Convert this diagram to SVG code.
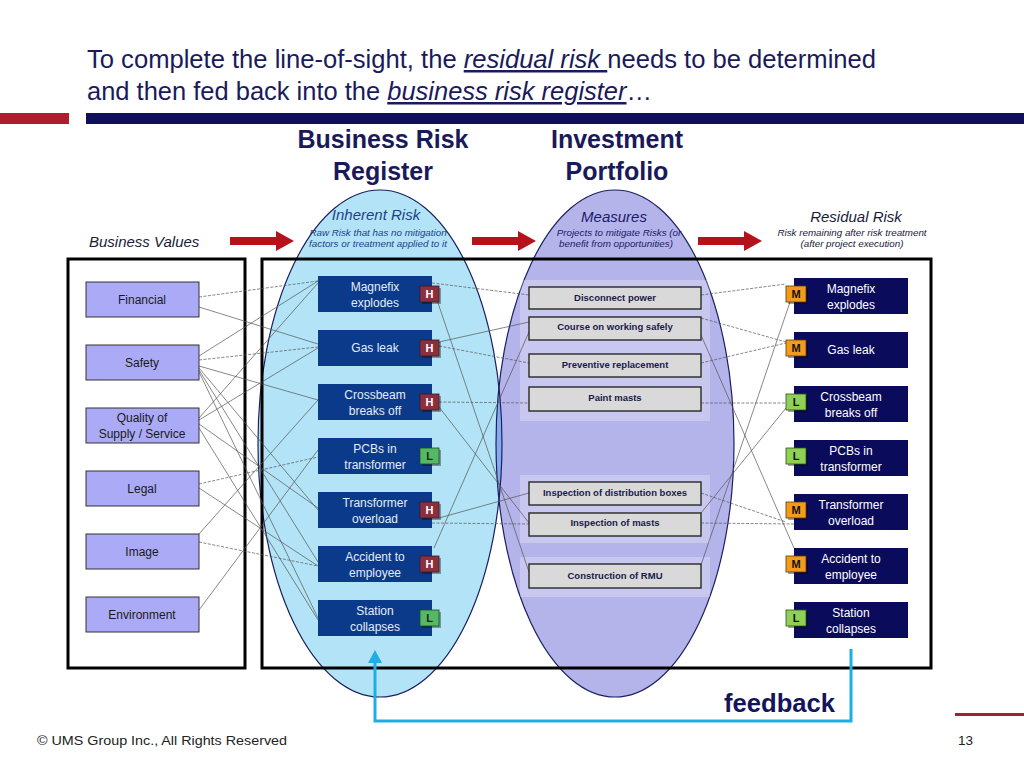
<svg xmlns="http://www.w3.org/2000/svg" width="1024" height="768" viewBox="0 0 1024 768">
<style>
text{font-family:"Liberation Sans",Arial,sans-serif}
.title{font-size:25px;fill:#1a1a5c}
.iu{font-style:italic;text-decoration:underline}
.hdr{font-size:25px;font-weight:bold;fill:#1a1a5a;text-anchor:middle}
.lab{font-size:15px;font-style:italic;text-anchor:middle}
.sub{font-size:9.8px;font-style:italic;text-anchor:middle}
.bv rect{fill:#aaaaf6;stroke:#333;stroke-width:1}
.bv text{font-size:12px;fill:#1a1a1a;text-anchor:middle}
.ir rect.b{fill:#0b3a8a}
.ir text.t{font-size:12px;fill:#e4ecf8;text-anchor:middle}
.rr rect.b{fill:#0b0b5c}
.rr text.t{font-size:12px;fill:#ffffff;text-anchor:middle}
.ms rect{fill:#d9d9d9;stroke:#333;stroke-width:1.5}
.ms text{font-size:9.5px;font-weight:bold;fill:#1a1a4a;text-anchor:middle}
.bd text{font-size:11px;font-weight:bold;text-anchor:middle}
.sh{fill:#000;opacity:0.35}
.H{fill:#8b2f3f;stroke:#3a1a20;stroke-width:0.8}
.Lg{fill:#55b863;stroke:#1e4a25;stroke-width:0.8}
.M{fill:#f39c1c;stroke:#5a3a08;stroke-width:0.8}
.L2{fill:#8fd155;stroke:#2e5218;stroke-width:0.8}
.c{stroke:#555;stroke-width:0.7;fill:none}
.d{stroke:#555;stroke-width:0.7;fill:none;stroke-dasharray:3 1.5}
.red{fill:#b5121b}
</style>
<defs>
<path id="rarrow" d="M0,-4 H46 V-10 L64,0 L46,10 V4 H0 Z"/>
<clipPath id="blueClip"><ellipse cx="380" cy="443.5" rx="122" ry="253.5"/></clipPath>
</defs>
<rect x="0" y="0" width="1024" height="768" fill="#ffffff"/>

<!-- title -->
<text class="title" x="87" y="68" textLength="789" lengthAdjust="spacingAndGlyphs">To complete the line-of-sight, the <tspan class="iu">residual risk </tspan>needs to be determined</text>
<text class="title" x="87" y="100" textLength="565" lengthAdjust="spacingAndGlyphs">and then fed back into the <tspan class="iu">business risk register</tspan>…</text>
<rect x="0" y="113" width="69" height="11" fill="#b01c2e"/>
<rect x="86" y="113" width="938" height="11" fill="#10105a"/>

<text class="hdr" x="383" y="148">Business Risk</text>
<text class="hdr" x="383" y="180">Register</text>
<text class="hdr" x="617" y="148">Investment</text>
<text class="hdr" x="617" y="180">Portfolio</text>

<!-- ellipses -->
<g id="ellipses">
<ellipse cx="380" cy="443.5" rx="122" ry="253.5" fill="#b3e3f6"/>
<ellipse cx="615" cy="443.5" rx="119" ry="253.5" fill="#b4b4ea"/>
<ellipse cx="615" cy="443.5" rx="119" ry="253.5" fill="#86aaee" clip-path="url(#blueClip)"/>
<ellipse cx="380" cy="443.5" rx="122" ry="253.5" fill="none" stroke="#1a2060" stroke-width="1.2"/>
<ellipse cx="615" cy="443.5" rx="119" ry="253.5" fill="none" stroke="#1a2060" stroke-width="1.2"/>
</g>

<!-- frames -->
<rect x="68" y="259" width="177" height="409" fill="none" stroke="#000" stroke-width="3"/>
<rect x="262" y="259" width="669" height="409" fill="none" stroke="#000" stroke-width="3"/>

<!-- measure panels -->
<rect x="520" y="280" width="190" height="141" fill="#ffffff" opacity="0.25"/>
<rect x="520" y="475" width="190" height="68" fill="#ffffff" opacity="0.25"/>
<rect x="520" y="557" width="190" height="40" fill="#ffffff" opacity="0.25"/>

<!-- red arrows -->
<use href="#rarrow" class="red" transform="translate(230,241)"/>
<use href="#rarrow" class="red" transform="translate(472,241)"/>
<use href="#rarrow" class="red" transform="translate(698,241)"/>

<!-- column labels -->
<text class="lab" x="89" y="247" style="text-anchor:start;fill:#1a1a3a">Business Values</text>
<text class="lab" x="376" y="220" fill="#1e3f8a">Inherent Risk</text>
<text class="sub" x="378" y="236" fill="#1e3f8a">Raw Risk that has no mitigation</text>
<text class="sub" x="378" y="247" fill="#1e3f8a">factors or treatment applied to it</text>
<text class="lab" x="614" y="222" fill="#1a1a6a">Measures</text>
<text class="sub" x="619" y="236" fill="#1a1a6a">Projects to mitigate Risks (or</text>
<text class="sub" x="616" y="247" fill="#1a1a6a">benefit from opportunities)</text>
<text class="lab" x="856" y="222" fill="#1a1a3a">Residual Risk</text>
<text class="sub" x="852" y="236" fill="#1a1a3a">Risk remaining after risk treatment</text>
<text class="sub" x="852" y="247" fill="#1a1a3a">(after project execution)</text>

<!-- connectors -->
<g id="connectors">
<line class="d" x1="199" y1="297" x2="318" y2="281"/>
<line class="c" x1="199" y1="307" x2="318" y2="344"/>
<line class="c" x1="199" y1="356" x2="318" y2="281"/>
<line class="d" x1="199" y1="360" x2="318" y2="347"/>
<line class="c" x1="199" y1="366" x2="318" y2="400"/>
<line class="c" x1="199" y1="368" x2="318" y2="510"/>
<line class="c" x1="199" y1="370" x2="318" y2="562"/>
<line class="c" x1="199" y1="372" x2="318" y2="618"/>
<line class="c" x1="199" y1="418" x2="318" y2="283"/>
<line class="c" x1="199" y1="420" x2="318" y2="348"/>
<line class="c" x1="199" y1="424" x2="318" y2="508"/>
<line class="c" x1="199" y1="428" x2="318" y2="620"/>
<line class="d" x1="199" y1="484" x2="318" y2="457"/>
<line class="c" x1="199" y1="488" x2="318" y2="566"/>
<line class="c" x1="199" y1="534" x2="318" y2="400"/>
<line class="d" x1="199" y1="542" x2="318" y2="566"/>
<line class="c" x1="199" y1="610" x2="318" y2="450"/>

<line class="d" x1="432" y1="283" x2="529" y2="295"/>
<line class="c" x1="437" y1="300" x2="529" y2="572"/>
<line class="c" x1="439" y1="342" x2="529" y2="322"/>
<line class="d" x1="439" y1="346" x2="529" y2="363"/>
<line class="d" x1="439" y1="402" x2="529" y2="403"/>
<line class="c" x1="439" y1="407" x2="529" y2="523"/>
<line class="c" x1="439" y1="518" x2="529" y2="493"/>
<line class="d" x1="432" y1="523" x2="529" y2="524"/>
<line class="c" x1="434" y1="548" x2="529" y2="332"/>

<line class="d" x1="701" y1="295" x2="786" y2="284"/>
<line class="d" x1="701" y1="318" x2="786" y2="342"/>
<line class="c" x1="701" y1="335" x2="794" y2="548"/>
<line class="d" x1="701" y1="363" x2="786" y2="343"/>
<line class="d" x1="701" y1="403" x2="786" y2="403"/>
<line class="d" x1="701" y1="493" x2="786" y2="522"/>
<line class="d" x1="701" y1="523" x2="794" y2="524"/>
<line class="c" x1="701" y1="513" x2="786" y2="408"/>
<line class="c" x1="701" y1="565" x2="790" y2="302"/>
</g>

<!-- business values -->
<g id="bv-financial" class="bv"><rect x="86" y="282" width="113" height="35"/><text x="142" y="304">Financial</text></g>
<g id="bv-safety" class="bv"><rect x="86" y="345" width="113" height="35"/><text x="142" y="367">Safety</text></g>
<g id="bv-quality" class="bv"><rect x="86" y="408" width="113" height="35"/><text x="142" y="422">Quality of</text><text x="142" y="438">Supply / Service</text></g>
<g id="bv-legal" class="bv"><rect x="86" y="471" width="113" height="35"/><text x="142" y="493">Legal</text></g>
<g id="bv-image" class="bv"><rect x="86" y="534" width="113" height="35"/><text x="142" y="556">Image</text></g>
<g id="bv-environment" class="bv"><rect x="86" y="597" width="113" height="35"/><text x="142" y="619">Environment</text></g>

<!-- inherent risks -->
<g id="ir-magnefix" class="ir"><rect class="b" x="318" y="276" width="114" height="36"/><text class="t" x="375" y="291">Magnefix</text><text class="t" x="375" y="307">explodes</text>
<g class="bd"><rect class="sh" x="422" y="288" width="19" height="16"/><rect class="H" x="420" y="286" width="19" height="16"/><text x="429.5" y="298" fill="#fff">H</text></g></g>
<g id="ir-gasleak" class="ir"><rect class="b" x="318" y="330" width="114" height="36"/><text class="t" x="375" y="352">Gas leak</text>
<g class="bd"><rect class="sh" x="422" y="342" width="19" height="16"/><rect class="H" x="420" y="340" width="19" height="16"/><text x="429.5" y="352" fill="#fff">H</text></g></g>
<g id="ir-crossbeam" class="ir"><rect class="b" x="318" y="384" width="114" height="36"/><text class="t" x="375" y="399">Crossbeam</text><text class="t" x="375" y="415">breaks off</text>
<g class="bd"><rect class="sh" x="422" y="396" width="19" height="16"/><rect class="H" x="420" y="394" width="19" height="16"/><text x="429.5" y="406" fill="#fff">H</text></g></g>
<g id="ir-pcbs" class="ir"><rect class="b" x="318" y="438" width="114" height="36"/><text class="t" x="375" y="453">PCBs in</text><text class="t" x="375" y="469">transformer</text>
<g class="bd"><rect class="sh" x="422" y="450" width="19" height="16"/><rect class="Lg" x="420" y="448" width="19" height="16"/><text x="429.5" y="460" fill="#1a2a1a">L</text></g></g>
<g id="ir-transformer" class="ir"><rect class="b" x="318" y="492" width="114" height="36"/><text class="t" x="375" y="507">Transformer</text><text class="t" x="375" y="523">overload</text>
<g class="bd"><rect class="sh" x="422" y="504" width="19" height="16"/><rect class="H" x="420" y="502" width="19" height="16"/><text x="429.5" y="514" fill="#fff">H</text></g></g>
<g id="ir-accident" class="ir"><rect class="b" x="318" y="546" width="114" height="36"/><text class="t" x="375" y="561">Accident to</text><text class="t" x="375" y="577">employee</text>
<g class="bd"><rect class="sh" x="422" y="558" width="19" height="16"/><rect class="H" x="420" y="556" width="19" height="16"/><text x="429.5" y="568" fill="#fff">H</text></g></g>
<g id="ir-station" class="ir"><rect class="b" x="318" y="600" width="114" height="36"/><text class="t" x="375" y="615">Station</text><text class="t" x="375" y="631">collapses</text>
<g class="bd"><rect class="sh" x="422" y="612" width="19" height="16"/><rect class="Lg" x="420" y="610" width="19" height="16"/><text x="429.5" y="622" fill="#1a2a1a">L</text></g></g>

<!-- measures -->
<g id="m-disconnect" class="ms"><rect x="529" y="287" width="172" height="22"/><text x="615" y="301">Disconnect power</text></g>
<g id="m-course" class="ms"><rect x="529" y="317" width="172" height="23"/><text x="615" y="330">Course on working safely</text></g>
<g id="m-preventive" class="ms"><rect x="529" y="354" width="172" height="23"/><text x="615" y="368">Preventive replacement</text></g>
<g id="m-paint" class="ms"><rect x="529" y="387" width="172" height="24"/><text x="615" y="401">Paint masts</text></g>
<g id="m-inspdist" class="ms"><rect x="529" y="482" width="172" height="23"/><text x="615" y="496">Inspection of distribution boxes</text></g>
<g id="m-inspmasts" class="ms"><rect x="529" y="513" width="172" height="23"/><text x="615" y="526">Inspection of masts</text></g>
<g id="m-rmu" class="ms"><rect x="529" y="564" width="172" height="24"/><text x="615" y="579">Construction of RMU</text></g>

<!-- residual risks -->
<g id="rr-magnefix" class="rr"><rect class="b" x="794" y="278" width="114" height="36"/><text class="t" x="851" y="293">Magnefix</text><text class="t" x="851" y="309">explodes</text>
<g class="bd"><rect class="sh" x="788" y="288" width="20" height="16"/><rect class="M" x="786" y="286" width="20" height="16"/><text x="796" y="298" fill="#111">M</text></g></g>
<g id="rr-gasleak" class="rr"><rect class="b" x="794" y="332" width="114" height="36"/><text class="t" x="851" y="354">Gas leak</text>
<g class="bd"><rect class="sh" x="788" y="342" width="20" height="16"/><rect class="M" x="786" y="340" width="20" height="16"/><text x="796" y="352" fill="#111">M</text></g></g>
<g id="rr-crossbeam" class="rr"><rect class="b" x="794" y="386" width="114" height="36"/><text class="t" x="851" y="401">Crossbeam</text><text class="t" x="851" y="417">breaks off</text>
<g class="bd"><rect class="sh" x="788" y="396" width="20" height="16"/><rect class="L2" x="786" y="394" width="20" height="16"/><text x="796" y="406" fill="#111">L</text></g></g>
<g id="rr-pcbs" class="rr"><rect class="b" x="794" y="440" width="114" height="36"/><text class="t" x="851" y="455">PCBs in</text><text class="t" x="851" y="471">transformer</text>
<g class="bd"><rect class="sh" x="788" y="450" width="20" height="16"/><rect class="L2" x="786" y="448" width="20" height="16"/><text x="796" y="460" fill="#111">L</text></g></g>
<g id="rr-transformer" class="rr"><rect class="b" x="794" y="494" width="114" height="36"/><text class="t" x="851" y="509">Transformer</text><text class="t" x="851" y="525">overload</text>
<g class="bd"><rect class="sh" x="788" y="504" width="20" height="16"/><rect class="M" x="786" y="502" width="20" height="16"/><text x="796" y="514" fill="#111">M</text></g></g>
<g id="rr-accident" class="rr"><rect class="b" x="794" y="548" width="114" height="36"/><text class="t" x="851" y="563">Accident to</text><text class="t" x="851" y="579">employee</text>
<g class="bd"><rect class="sh" x="788" y="558" width="20" height="16"/><rect class="M" x="786" y="556" width="20" height="16"/><text x="796" y="568" fill="#111">M</text></g></g>
<g id="rr-station" class="rr"><rect class="b" x="794" y="602" width="114" height="36"/><text class="t" x="851" y="617">Station</text><text class="t" x="851" y="633">collapses</text>
<g class="bd"><rect class="sh" x="788" y="612" width="20" height="16"/><rect class="L2" x="786" y="610" width="20" height="16"/><text x="796" y="622" fill="#111">L</text></g></g>

<!-- feedback -->
<g id="feedback">
<path d="M851,649 V721 H375 V662" fill="none" stroke="#1eaee6" stroke-width="3"/>
<polygon points="375,650 368,663 382,663" fill="#1eaee6"/>
<text x="724" y="712" font-size="25" font-weight="bold" fill="#14145a" textLength="111" lengthAdjust="spacingAndGlyphs">feedback</text>
</g>

<!-- footer -->
<rect x="955" y="713" width="69" height="3" fill="#9b2335"/>
<text x="37" y="745" font-size="13.5" fill="#222" textLength="250" lengthAdjust="spacingAndGlyphs">© UMS Group Inc., All Rights Reserved</text>
<text x="958" y="745" font-size="13.5" fill="#222">13</text>
</svg>
